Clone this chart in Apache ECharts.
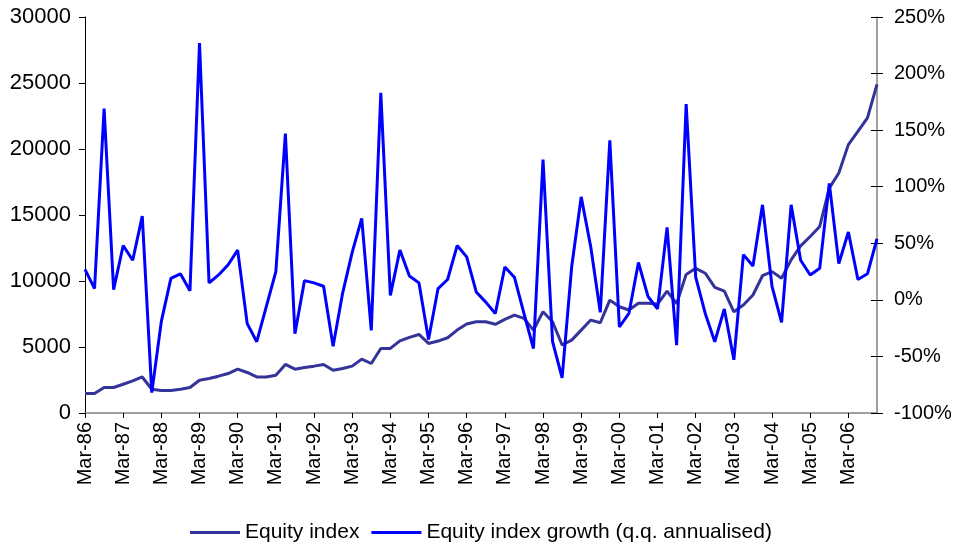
<!DOCTYPE html>
<html>
<head>
<meta charset="utf-8">
<script src="https://cdn.jsdelivr.net/npm/echarts@6/dist/echarts.min.js"></script>
<style>
html,body{margin:0;padding:0;background:#fff;}
#c{width:956px;height:548px;}
</style>
</head>
<body>
<div id="c"></div>
<script>
var categories = [
"Mar-86","Jun-86","Sep-86","Dec-86","Mar-87","Jun-87","Sep-87","Dec-87",
"Mar-88","Jun-88","Sep-88","Dec-88","Mar-89","Jun-89","Sep-89","Dec-89",
"Mar-90","Jun-90","Sep-90","Dec-90","Mar-91","Jun-91","Sep-91","Dec-91",
"Mar-92","Jun-92","Sep-92","Dec-92","Mar-93","Jun-93","Sep-93","Dec-93",
"Mar-94","Jun-94","Sep-94","Dec-94","Mar-95","Jun-95","Sep-95","Dec-95",
"Mar-96","Jun-96","Sep-96","Dec-96","Mar-97","Jun-97","Sep-97","Dec-97",
"Mar-98","Jun-98","Sep-98","Dec-98","Mar-99","Jun-99","Sep-99","Dec-99",
"Mar-00","Jun-00","Sep-00","Dec-00","Mar-01","Jun-01","Sep-01","Dec-01",
"Mar-02","Jun-02","Sep-02","Dec-02","Mar-03","Jun-03","Sep-03","Dec-03",
"Mar-04","Jun-04","Sep-04","Dec-04","Mar-05","Jun-05","Sep-05","Dec-05",
"Mar-06","Jun-06","Sep-06","Dec-06"
];

var equityIndex = [
1480,1480,1930,1930,2180,2430,2730,1800,
1700,1700,1800,1930,2480,2610,2790,2990,
3320,3070,2730,2730,2860,3680,3320,3450,
3550,3680,3240,3370,3550,4080,3750,4890,
4890,5470,5730,5950,5270,5450,5700,6280,
6740,6910,6910,6720,7090,7420,7170,6280,
7670,6910,5150,5520,6280,7040,6840,8550,
8050,7800,8310,8310,8250,9240,8280,10500,
10960,10590,9520,9240,7670,8180,8940,10400,
10710,10210,11600,12660,13370,14130,17040,18180,
20330,21340,22360,24890
];

var equityGrowth = [
27,10,169,9,48,35,74,-82,
-19,19,23,8,227,15,22,31,
44,-21,-37,-6,25,147,-30,17,
15,12,-41,6,42,72,-27,183,
4,44,21,15,-35,10,18,48,
38,7,-2,-12,29,20,-12,-43,
124,-37,-69,29,91,47,-11,141,
-24,-12,33,3,-8,64,-40,173,
20,-12,-37,-8,-53,40,30,84,
12,-20,84,35,22,28,103,32,
60,18,23,54
];

var leftTicks = {min: 0, max: 30000, interval: 5000};
var rightTicks = {min: -100, max: 250, interval: 50};
var seriesNames = ["Equity index", "Equity index growth (q.q. annualised)"];

var FONT = "'Liberation Sans', Arial, sans-serif";
var chart = echarts.init(document.getElementById('c'), null, {renderer: 'canvas'});
chart.setOption({
  animation: false,
  backgroundColor: '#fff',
  grid: {left: 85, right: 79, top: 17, bottom: 135, containLabel: false},
  legend: {
    data: [
      {name: seriesNames[0], icon: 'rect'},
      {name: seriesNames[1], icon: 'rect'}
    ],
    left: 185, top: 517,
    itemWidth: 50, itemHeight: 3, itemGap: 12,
    textStyle: {fontFamily: FONT, fontSize: 21, color: '#000'}
  },
  xAxis: {
    type: 'category',
    data: categories,
    boundaryGap: false,
    axisLine: {lineStyle: {color: '#808080', width: 1.5}},
    axisTick: {interval: 3, length: 5, lineStyle: {color: '#000'}},
    axisLabel: {interval: 3, rotate: 90, margin: 9, fontFamily: FONT, fontSize: 20, color: '#000'},
    splitLine: {show: false}
  },
  yAxis: [
    {
      type: 'value', position: 'left',
      min: leftTicks.min, max: leftTicks.max, interval: leftTicks.interval,
      axisLine: {show: true, lineStyle: {color: '#000', width: 1}},
      axisTick: {show: true, length: 6, lineStyle: {color: '#000'}},
      axisLabel: {margin: 14, formatter: function (v) { return String(v); }, fontFamily: FONT, fontSize: 22, color: '#000'},
      splitLine: {show: false}
    },
    {
      type: 'value', position: 'right',
      min: rightTicks.min, max: rightTicks.max, interval: rightTicks.interval,
      axisLine: {show: true, lineStyle: {color: '#808080', width: 1.5}},
      axisTick: {show: true, length: 6, lineStyle: {color: '#000'}},
      axisLabel: {margin: 17, formatter: '{value}%', fontFamily: FONT, fontSize: 20, color: '#000'},
      splitLine: {show: false}
    },
    {
      type: 'value', position: 'right',
      min: rightTicks.min, max: rightTicks.max, interval: rightTicks.interval,
      axisLine: {show: false},
      axisTick: {show: true, inside: true, length: 6, lineStyle: {color: '#000'}},
      axisLabel: {show: false},
      splitLine: {show: false}
    }
  ],
  series: [
    {
      name: seriesNames[0], type: 'line', yAxisIndex: 0,
      data: equityIndex, showSymbol: false, symbol: 'none',
      lineStyle: {color: '#333399', width: 3},
      itemStyle: {color: '#333399'}, z: 2
    },
    {
      name: seriesNames[1], type: 'line', yAxisIndex: 1,
      data: equityGrowth, showSymbol: false, symbol: 'none',
      lineStyle: {color: '#0000FF', width: 3},
      itemStyle: {color: '#0000FF'}, z: 3
    }
  ]
});
</script>
</body>
</html>
